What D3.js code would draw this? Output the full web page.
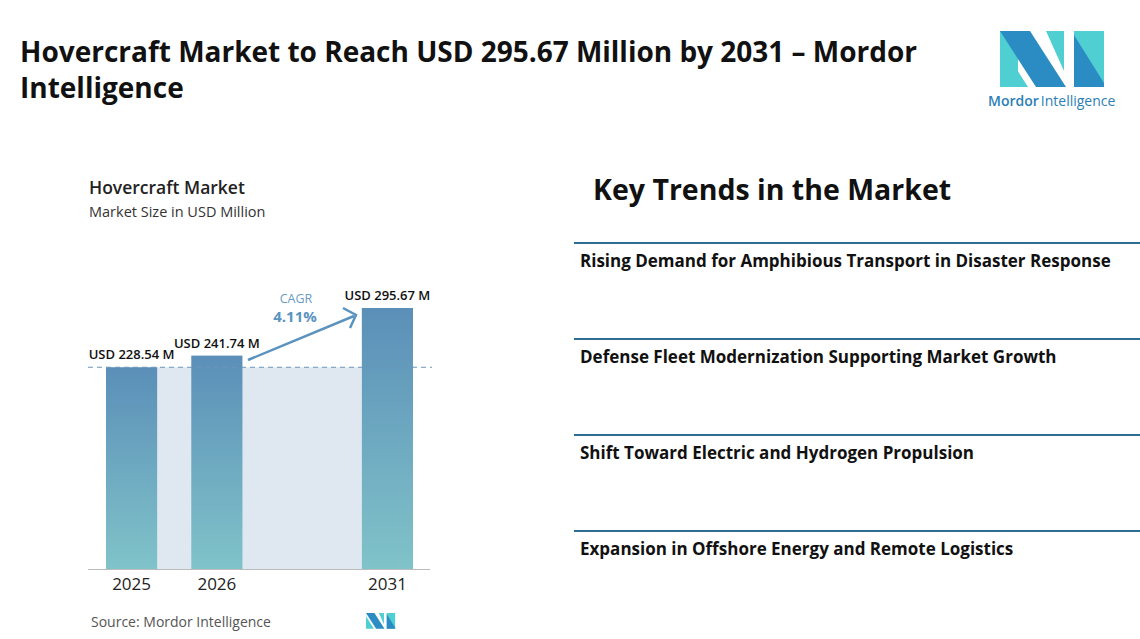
<!DOCTYPE html>
<html><head><meta charset="utf-8">
<script src="https://cdn.jsdelivr.net/npm/d3@7"></script>
<style>body{margin:0;background:#fff;font-family:"Open Sans",sans-serif}</style>
</head><body><div id="chart"></div>
<script>
const years = ["2025", "2026", "gap", "2031"];
const values = [228.54, 241.74, null, 295.67];
const labels = ["USD 228.54 M", "USD 241.74 M", "", "USD 295.67 M"];
const trends = [
  "Rising Demand for Amphibious Transport in Disaster Response",
  "Defense Fleet Modernization Supporting Market Growth",
  "Shift Toward Electric and Hydrogen Propulsion",
  "Expansion in Offshore Energy and Remote Logistics"
];

const svg = d3.select("#chart").append("svg").attr("width", 1140).attr("height", 639);

// title
svg.append("text").attr("x", 20).attr("y", 62).attr("font-size", 28).attr("font-weight", 700)
  .attr("fill", "#111").attr("textLength", 897).text("Hovercraft Market to Reach USD 295.67 Million by 2031 – Mordor");
svg.append("text").attr("x", 20).attr("y", 98).attr("font-size", 28).attr("font-weight", 700)
  .attr("fill", "#111").text("Intelligence");

// logo
const logo = svg.append("g").attr("transform", "translate(1000,31)");
logo.append("polygon").attr("points", "0,0 18,0 18,56 0,56").attr("fill", "#4fcfd1");
logo.append("polygon").attr("points", "0,0 30,0 66,56 36,56").attr("fill", "#2b8cc4");
logo.append("polygon").attr("points", "0,12 28,56 0,56").attr("fill", "#4fcfd1");
logo.append("polygon").attr("points", "46,0 64,0 64,40").attr("fill", "#4fcfd1");
logo.append("polygon").attr("points", "74,0 104,0 104,56 74,56").attr("fill", "#4fcfd1");
logo.append("polygon").attr("points", "74,4 104,52 104,56 74,56").attr("fill", "#2b8cc4");
svg.append("text").attr("x", 988).attr("y", 106).attr("font-size", 14).attr("fill", "#2b7fb5")
  .html('<tspan font-weight="600">Mordor</tspan><tspan dx="2">Intelligence</tspan>');

// chart headings
svg.append("text").attr("x", 89).attr("y", 194).attr("font-size", 17.5).attr("font-weight", 600)
  .attr("fill", "#222").text("Hovercraft Market");
svg.append("text").attr("x", 89).attr("y", 217).attr("font-size", 14.5).attr("fill", "#333")
  .text("Market Size in USD Million");

const x = d3.scaleBand().domain(years).range([106, 413]).paddingInner(0.4).paddingOuter(0);
const y = d3.scaleLinear().domain([0, 295.67]).range([569, 308]);

const defs = svg.append("defs");
const grad = defs.append("linearGradient").attr("id", "bg").attr("x1", 0).attr("y1", 0).attr("x2", 0).attr("y2", 1);
grad.append("stop").attr("offset", "0%").attr("stop-color", "#5b8fb8");
grad.append("stop").attr("offset", "100%").attr("stop-color", "#80c3c9");

// shaded region
svg.append("rect").attr("x", x("2025")).attr("y", y(values[0]))
  .attr("width", x("2031") - x("2025")).attr("height", y(0) - y(values[0])).attr("fill", "#dfe8f1");

const bars = years.map((d, i) => ({ y: d, v: values[i], l: labels[i] })).filter(d => d.v);

svg.selectAll(".bar").data(bars)
  .enter().append("rect").attr("class", "bar")
  .attr("x", d => x(d.y)).attr("y", d => y(d.v))
  .attr("width", x.bandwidth()).attr("height", d => y(0) - y(d.v)).attr("fill", "url(#bg)");

svg.selectAll(".vlab").data(bars)
  .enter().append("text").attr("x", d => x(d.y) + x.bandwidth() / 2)
  .attr("y", d => y(d.v) - 8).attr("text-anchor", "middle").attr("font-size", 13).attr("font-weight", 600)
  .attr("fill", "#111").text(d => d.l);

// dashed reference line
svg.append("line").attr("x1", 88).attr("x2", 432).attr("y1", y(values[0])).attr("y2", y(values[0]))
  .attr("stroke", "#6a95bb").attr("stroke-dasharray", "5,4").attr("stroke-width", 1);

// axis
const ax = svg.append("g").attr("transform", `translate(0,${y(0)})`)
  .call(d3.axisBottom(x).tickSize(0).tickFormat(d => d === "gap" ? "" : d));
ax.select(".domain").remove();
svg.append("line").attr("x1", 88).attr("x2", 430).attr("y1", y(0) + 0.5).attr("y2", y(0) + 0.5).attr("stroke", "#bbb");
ax.selectAll("text").attr("font-size", 17).attr("font-family", "Open Sans").attr("fill", "#222").attr("dy", "1.05em");

// CAGR arrow
svg.append("line").attr("x1", 248).attr("y1", 360).attr("x2", 354).attr("y2", 316)
  .attr("stroke", "#5a93bf").attr("stroke-width", 2.5);
svg.append("polyline").attr("points", "343,308 356,315 350,328").attr("fill", "none")
  .attr("stroke", "#5a93bf").attr("stroke-width", 2.5);
svg.append("text").attr("x", 296).attr("y", 303).attr("text-anchor", "middle").attr("font-size", 12.5)
  .attr("fill", "#6b9cc5").text("CAGR");
svg.append("text").attr("x", 295).attr("y", 322).attr("text-anchor", "middle").attr("font-size", 15)
  .attr("font-weight", 700).attr("fill", "#5a93bf").text("4.11%");

// source
svg.append("text").attr("x", 91).attr("y", 627).attr("font-size", 14).attr("fill", "#555")
  .text("Source: Mordor Intelligence");
const sl = svg.append("g").attr("transform", "translate(366,613) scale(0.28)");
sl.append("polygon").attr("points", "0,0 30,0 66,56 36,56").attr("fill", "#2b8cc4");
sl.append("polygon").attr("points", "0,12 28,56 0,56").attr("fill", "#4fcfd1");
sl.append("polygon").attr("points", "46,0 64,0 64,40").attr("fill", "#4fcfd1");
sl.append("polygon").attr("points", "74,0 104,0 104,56 74,56").attr("fill", "#4fcfd1");
sl.append("polygon").attr("points", "74,4 104,52 104,56 74,56").attr("fill", "#2b8cc4");

// key trends
svg.append("text").attr("x", 593).attr("y", 200).attr("font-size", 28.5).attr("font-weight", 700)
  .attr("fill", "#111").text("Key Trends in the Market");
trends.forEach((t, i) => {
  const yy = 243 + i * 96;
  svg.append("line").attr("x1", 574).attr("x2", 1140).attr("y1", yy).attr("y2", yy)
    .attr("stroke", "#2f6d93").attr("stroke-width", 2);
  svg.append("text").attr("x", 580).attr("y", yy + 24).attr("font-size", 17).attr("font-weight", 700)
    .attr("fill", "#111").text(t);
});
</script></body></html>
